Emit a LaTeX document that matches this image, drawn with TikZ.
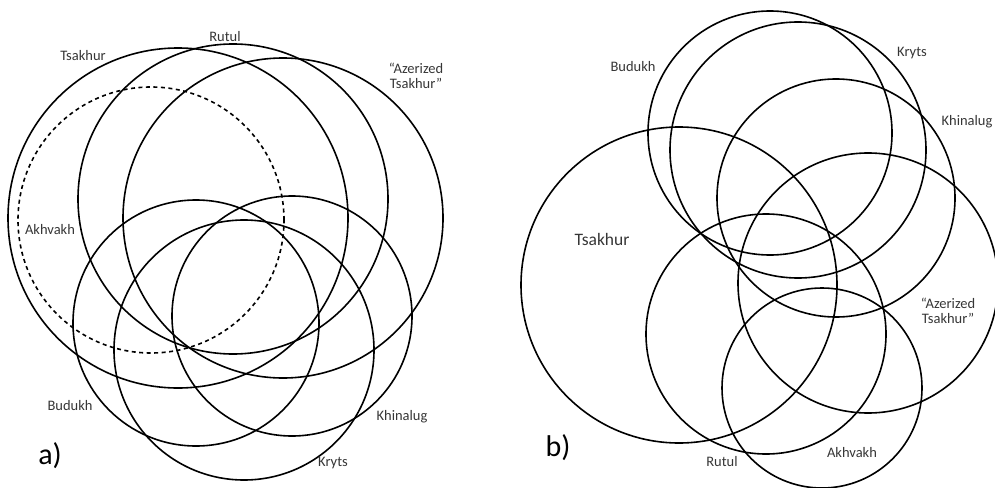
\documentclass[tikz,border=0pt]{standalone}
\usepackage{fontspec}
\setmainfont{Carlito}
\usetikzlibrary{positioning}
\definecolor{lblgray}{HTML}{363636}

\begin{document}
\begin{tikzpicture}[x=1pt, y=-1pt,
    ring/.style={draw, line width=1.6pt},
    dring/.style={ring, dash pattern=on 4pt off 3.5pt},
    lbl/.style={font=\fontsize{14.5}{15}\selectfont, text=lblgray,
                inner sep=0pt, align=center},
    tag/.style={font=\fontsize{30}{30}\selectfont, inner sep=0pt},
  ]
  \useasboundingbox (0,0) rectangle (995,487);

  % a) upper group
  \draw[ring]  (178,218) circle[radius=170pt]; % Tsakhur
  \draw[ring]  (233,199) circle[radius=155pt]; % Rutul
  \draw[ring]  (283,218) circle[radius=160pt]; % Azerized Tsakhur
  \draw[dring] (151,220) circle[radius=133pt]; % Akhvakh
  % a) lower group
  \draw[ring]  (196,323) circle[radius=123pt]; % Budukh
  \draw[ring]  (292,316) circle[radius=120pt]; % Khinalug
  \draw[ring]  (244,350) circle[radius=130pt]; % Kryts

  \node[lbl] (aRutul)  at (225,37)  {Rutul};
  \node[lbl] (aTsak)   at (83,56)   {Tsakhur};
  \node[lbl] (aAzer)   at (416,76)  {“Azerized\\Tsakhur”};
  \node[lbl] (aAkhv)   at (50,230)  {Akhvakh};
  \node[lbl] (aBudu)   at (70,406)  {Budukh};
  \node[lbl] (aKhin)   at (402,417) {Khinalug};
  \node[lbl] (aKryt)   at (333,463) {Kryts};
  \node[tag] (tagA)    at (50,456)  {a)};

  % b) upper group
  \draw[ring] (770,133) circle[radius=122pt]; % Budukh
  \draw[ring] (798,150) circle[radius=128pt]; % Kryts
  \draw[ring] (836,198) circle[radius=119pt]; % Khinalug
  % b) lower group
  \draw[ring] (679,285) circle[radius=158pt]; % Tsakhur
  \draw[ring] (868,283) circle[radius=130pt]; % Azerized Tsakhur
  \draw[ring] (766,334) circle[radius=120pt]; % Rutul
  \draw[ring] (822,388) circle[radius=100pt]; % Akhvakh

  \node[lbl] (bBudu)   at (633,67)  {Budukh};
  \node[lbl] (bKryt)   at (912,53)  {Kryts};
  \node[lbl] (bKhin)   at (967,122) {Khinalug};
  \node[lbl, font=\fontsize{17.5}{18}\selectfont] (bTsak) at (602,239) {Tsakhur};
  \node[lbl] (bAzer)   at (948,311) {“Azerized\\Tsakhur”};
  \node[lbl] (bAkhv)   at (852,453) {Akhvakh};
  \node[lbl] (bRutu)   at (722,462) {Rutul};
  \node[tag] (tagB)    at (558,448) {b)};
\end{tikzpicture}
\end{document}
